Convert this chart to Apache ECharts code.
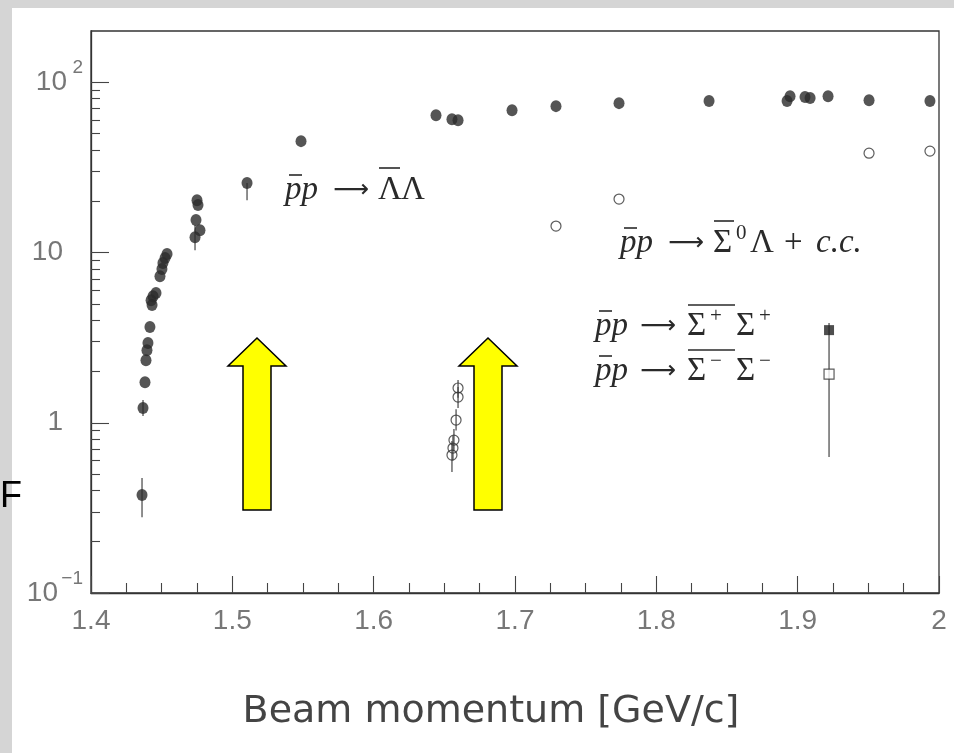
<!DOCTYPE html>
<html><head><meta charset="utf-8">
<script src="https://cdn.jsdelivr.net/npm/echarts@6/dist/echarts.min.js"></script>
<style>html,body{margin:0;padding:0;background:#d5d5d5}#c{width:954px;height:753px}</style>
</head><body><div id="c"></div>
<script>
// ---- data ----
const xTickValues = [1.4, 1.5, 1.6, 1.7, 1.8, 1.9, 2.0];
const yMajorTicks = [0.1, 1, 10, 100];
const yMinorTicks = [0.2,0.3,0.4,0.5,0.6,0.7,0.8,0.9, 2,3,4,5,6,7,8,9, 20,30,40,50,60,70,80,90];

// p̄p -> Λ̄Λ (filled circles)
const lambdaMomentum = [1.4361,1.4368,1.4382,1.4389,1.4396,1.4403,1.4417,1.4425,1.4432,1.4439,1.4460,1.4488,1.4502,1.4509,1.4524,1.4538,
  1.4750,1.4757,1.4743,1.4771,1.4736,1.5104,1.5486,1.6441,1.6554,1.6597,1.6979,1.7290,1.7736,1.8373,1.8925,1.8946,1.9052,1.9088,1.9215,1.9505,1.9936];
const lambdaXsec = [0.376,1.22,1.73,2.33,2.67,2.94,3.65,5.25,4.91,5.54,5.78,7.26,7.99,8.67,9.27,9.79,
  20.3,19.0,15.5,13.5,12.3,25.6,45.1,64.1,60.7,59.9,68.5,72.4,75.4,77.5,77.5,82.8,81.8,80.7,82.8,78.5,77.5];
// error bars [momentum, low, high]
const lambdaErrors = [[1.4361,0.279,0.473],[1.4368,1.095,1.36],[1.4736,10.3,14.5],[1.5104,20.3,25.6]];

// p̄p -> Σ̄0Λ + c.c. (open circles)
const sigma0Momentum = [1.6554,1.6561,1.6568,1.6583,1.6597,1.6597,1.7290,1.7736,1.9505,1.9936];
const sigma0Xsec = [0.646,0.710,0.791,1.037,1.415,1.60,14.3,20.6,38.3,39.4];
const sigma0Errors = [[1.6554,0.513,0.78],[1.6561,0.60,0.84],[1.6568,0.68,0.92],[1.6583,0.90,1.20],[1.6597,1.22,1.62],[1.6597,1.40,1.78]];

// p̄p -> Σ̄+Σ+ (filled square) and Σ̄-Σ- (open square)
const sigmaPlusMomentum = [1.9222];
const sigmaPlusXsec = [3.50];
const sigmaMinusMomentum = [1.9222];
const sigmaMinusXsec = [1.93];
const sigmaMinusErrors = [[1.9222,0.629,3.85]];

const zip = (a,b) => a.map((v,i)=>[v,b[i]]);

const chart = echarts.init(document.getElementById('c'));
const errStyle = {stroke:'#444', lineWidth:1.2};
function errSeries(data){
  return {type:'custom', data:data, z:1, silent:true,
    renderItem:(p,api)=>{
      const a = api.coord([api.value(0), api.value(1)]);
      const b = api.coord([api.value(0), api.value(2)]);
      return {type:'line', shape:{x1:a[0],y1:a[1],x2:b[0],y2:b[1]}, style:errStyle};
    }};
}
const ink = '#2a2a2a';
function t(x, y, str, kind){
  const fonts = {
    it:'italic 33px "Liberation Serif"',
    rm:'33px "Liberation Serif"',
    sup:'21px "Liberation Serif"',
    ar:'25px "DejaVu Sans"'
  };
  return {type:'text', x:x, y:y, z:10, silent:true,
    style:{text:str, font:fonts[kind], fill:ink, align:'left', verticalAlign:'middle'}};
}
function bar(x1, x2, y){
  return {type:'line', z:10, silent:true, shape:{x1:x1,y1:y,x2:x2,y2:y}, style:{stroke:ink, lineWidth:1.6}};
}
function arrow(cx){
  return {type:'polygon', z:10, shape:{points:[[cx,338],[cx+29,366],[cx+14,366],[cx+14,510],[cx-14,510],[cx-14,366],[cx-29,366]]},
    style:{fill:'#ffff00', stroke:'#000', lineWidth:1.5}};
}

chart.setOption({
  backgroundColor:'#d5d5d5',
  animation:false,
  grid:{left:91, right:15, top:31, bottom:160, show:true, borderColor:'#333', borderWidth:1.3, backgroundColor:'rgba(0,0,0,0)'},
  xAxis:{type:'value', min:1.4, max:2.0, interval:0.1,
    axisLine:{lineStyle:{color:'#333', width:1.3}},
    axisTick:{inside:true, length:17, lineStyle:{color:'#444', width:1.1}},
    minorTick:{show:true, splitNumber:4, length:10, lineStyle:{color:'#444', width:1.1}},
    splitLine:{show:false},
    axisLabel:{margin:14, fontFamily:'Liberation Sans', fontSize:28, color:'#777',
      formatter:v=> Math.abs(v-2)<1e-9 ? '2' : v.toFixed(1)}
  },
  yAxis:[
    {type:'log', logBase:10, min:0.1, max:200,
      axisLine:{show:true, lineStyle:{color:'#333', width:1.3}},
      axisTick:{inside:true, length:18, customValues:yMajorTicks, lineStyle:{color:'#444', width:1.1}},
      splitLine:{show:false},
      axisLabel:{customValues:yMajorTicks, margin:8, color:'#777', align:'right',
        formatter:v=>{
          const e = Math.round(Math.log10(v));
          if(e===0) return '{n|1}{sp|}';
          if(e===1) return '{n|10}{sp|}';
          if(e===2) return '{s|2}\n{n|10}{g2|}';
          return '{s|\u22121}\n{n|10}{g1|}';
        },
        rich:{
          n:{fontFamily:'Liberation Sans', fontSize:28, color:'#777', lineHeight:28},
          s:{fontFamily:'Liberation Sans', fontSize:19, color:'#777', lineHeight:1},
          sp:{width:20},
          g2:{width:16},
          g1:{width:25}
        }}
    },
    {type:'log', logBase:10, min:0.1, max:200, position:'left', offset:0,
      axisLine:{show:false},
      axisTick:{show:true, inside:true, length:9, customValues:yMinorTicks, lineStyle:{color:'#444', width:1.1}},
      axisLabel:{show:false}, splitLine:{show:false}
    }
  ],
  series:[
    errSeries(lambdaErrors),
    errSeries(sigma0Errors),
    errSeries(sigmaMinusErrors),
    {type:'scatter', name:'LambdaLambda', data:zip(lambdaMomentum, lambdaXsec), symbol:'circle', symbolSize:[11,12],
      itemStyle:{color:'#2b2b2b'}, z:3},
    {type:'scatter', name:'Sigma0Lambda', data:zip(sigma0Momentum, sigma0Xsec), symbol:'circle', symbolSize:10,
      itemStyle:{color:'rgba(255,255,255,0)', borderColor:'#333', borderWidth:1.2}, z:3},
    {type:'scatter', name:'SigmaPlus', data:zip(sigmaPlusMomentum, sigmaPlusXsec), symbol:'rect', symbolSize:10,
      itemStyle:{color:'#222'}, z:3},
    {type:'scatter', name:'SigmaMinus', data:zip(sigmaMinusMomentum, sigmaMinusXsec), symbol:'rect', symbolSize:10,
      itemStyle:{color:'#fff', borderColor:'#333', borderWidth:1.2}, z:3}
  ],
  graphic:[
    {type:'rect', z:-10, silent:true, shape:{x:12, y:8, width:942, height:745}, style:{fill:'#ffffff'}},
    // p̄p → Λ̄Λ
    t(285,190,'pp','it'), bar(289,302,175), t(333,190,'\u27F6','ar'), t(378,190,'\u039B','rm'), t(401,190,'\u039B','rm'), bar(379,400,168),
    // p̄p → Σ̄0Λ + c.c.
    t(620,243,'pp','it'), bar(624,637,228), t(668,243,'\u27F6','ar'), t(713,243,'\u03A3','rm'), bar(714,734,221), t(736,233,'0','sup'),
      t(750,243,'\u039B','rm'), t(784,243,'+','rm'), t(816,243,'c.c.','it'),
    // p̄p → Σ̄+Σ+
    t(595,326,'pp','it'), bar(599,612,311), t(640,326,'\u27F6','ar'), t(687,326,'\u03A3','rm'), t(710,316,'+','sup'), bar(688,735,305),
      t(736,326,'\u03A3','rm'), t(759,316,'+','sup'),
    // p̄p → Σ̄−Σ−
    t(595,371,'pp','it'), bar(599,612,356), t(640,371,'\u27F6','ar'), t(687,371,'\u03A3','rm'), t(710,361,'\u2212','sup'), bar(688,735,350),
      t(736,371,'\u03A3','rm'), t(759,361,'\u2212','sup'),
    arrow(257),
    arrow(488),
    {type:'text', x:0, y:497, z:10, style:{text:'F', font:'36px "Liberation Sans"', fill:'#000', align:'left', verticalAlign:'middle'}},
    {type:'text', x:491, y:712, z:10, style:{text:'Beam momentum [GeV/c]', font:'38px "DejaVu Sans"', fill:'#444', align:'center', verticalAlign:'middle'}}
  ]
});
</script>
</body></html>
